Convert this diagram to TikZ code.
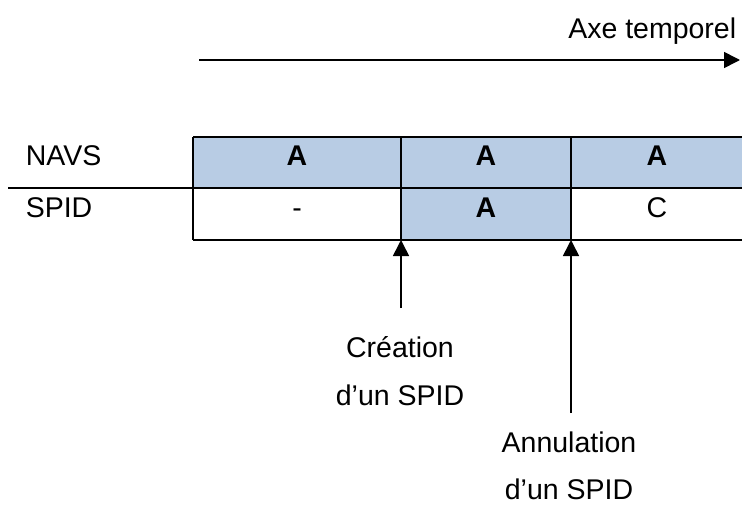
\documentclass[tikz,border=0pt]{standalone}
\usepackage{fontspec}
\setmainfont{Liberation Sans}
\usetikzlibrary{arrows.meta}
\definecolor{cellblue}{HTML}{B8CCE4}
\begin{document}
\begin{tikzpicture}[x=1pt,y=-1pt,line width=1.6pt,
  txt/.style={font=\fontsize{28.5}{34}\selectfont,inner sep=0pt,anchor=base},
  btxt/.style={txt,font=\fontsize{28.5}{34}\selectfont\bfseries},
  cellbox/.style={inner sep=0pt,outer sep=0pt,anchor=north west,minimum height=51pt},
  tip/.style={-{Triangle[length=16pt,width=16pt]}}]
\useasboundingbox (0,0) rectangle (742,506);
% time axis
\coordinate (axs) at (199,60);
\coordinate (axe) at (740,60);
\draw[tip] (axs) -- (axe);
\node[txt,anchor=base east] (axlab) at (737,38) {Axe temporel};
% table cells (fills)
\node[cellbox,fill=cellblue,minimum width=208pt] (n1) at (193,137) {};
\node[cellbox,fill=cellblue,minimum width=170pt] (n2) at (401,137) {};
\node[cellbox,fill=cellblue,minimum width=175pt] (n3) at (571,137) {};
\node[cellbox,minimum width=208pt,minimum height=52pt] (s1) at (193,188) {};
\node[cellbox,fill=cellblue,minimum width=170pt,minimum height=52pt] (s2) at (401,188) {};
% table lines
\draw (n1.north west) -- (n3.north east);
\draw (s1.south west) -- (s1.south west -| n3.east);
\draw (n1.north west) -- (s1.south west);
\draw (n2.north west) -- (s2.south west);
\draw (n2.north east) -- (s2.south east);
% row separator line extending left
\coordinate (sepl) at (8,188);
\draw (sepl) -- (sepl -| n3.east);
% row labels
\node[txt,anchor=base west] (navs) at (25,165) {NAVS};
\node[txt,anchor=base west] (spid) at (25,217) {SPID};
% cell texts
\node[btxt] (a1) at (297,165) {A};
\node[btxt] (a2) at (486,165) {A};
\node[btxt] (a3) at (657,165) {A};
\node[txt] (b1) at (297,217) {-};
\node[btxt] (b2) at (486,217) {A};
\node[txt] (b3) at (657,217) {C};
% event arrows
\coordinate (ca) at (401,308);
\coordinate (aa) at (571,413);
\draw[tip] (ca) -- (s2.south west);
\draw[tip] (aa) -- (s2.south east);
\node[txt] (cr1) at (400,357) {Création};
\node[txt] (cr2) at (400,405) {d’un SPID};
\node[txt] (an1) at (569,452) {Annulation};
\node[txt] (an2) at (569,499) {d’un SPID};
\end{tikzpicture}
\end{document}
